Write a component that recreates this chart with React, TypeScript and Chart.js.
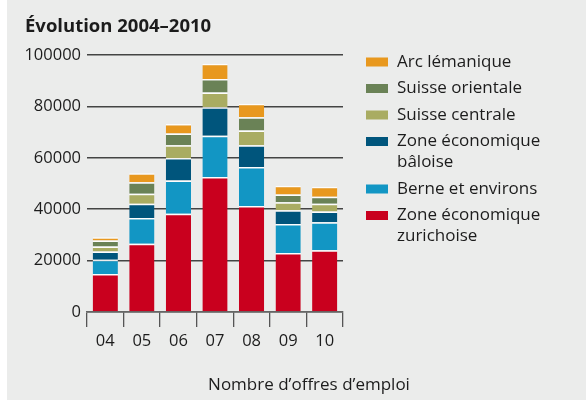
import React, { useEffect, useRef } from "react";
import { Chart, registerables } from "chart.js";
Chart.register(...registerables);

const categories = ["04", "05", "06", "07", "08", "09", "10"];
const zurich = [14.8, 26.6, 38.2, 52.5, 41.2, 23.0, 24.0].map((v) => v * 1000);
const berne = [5.5, 10.0, 13.0, 16.1, 15.2, 11.2, 10.9].map((v) => v * 1000);
const bale = [3.2, 5.5, 8.7, 11.1, 8.5, 5.4, 4.2].map((v) => v * 1000);
const centrale = [2.0, 3.9, 5.0, 5.7, 5.7, 3.1, 3.0].map((v) => v * 1000);
const orientale = [2.3, 4.5, 4.6, 5.3, 5.2, 3.0, 2.7].map((v) => v * 1000);
const lemanique = [1.3, 3.5, 3.7, 5.9, 5.2, 3.4, 3.9].map((v) => v * 1000);
const yTicks = [0, 20000, 40000, 60000, 80000, 100000];

const seriesNames = [
  ["Zone économique", "zurichoise"],
  ["Berne et environs"],
  ["Zone économique", "bâloise"],
  ["Suisse centrale"],
  ["Suisse orientale"],
  ["Arc lémanique"],
];
const seriesColors = ["#c9001e", "#1296c4", "#00557c", "#a9ac62", "#6a8256", "#e8981e"];
const seriesData = [zurich, berne, bale, centrale, orientale, lemanique];

const FONT = "'Open Sans', 'Noto Sans', sans-serif";
const TEXT = "#1c1c1c";

const decorPlugin = {
  id: "decor",
  beforeDraw(chart: any) {
    const ctx = chart.ctx;
    ctx.save();
    ctx.fillStyle = "#ffffff";
    ctx.fillRect(0, 0, chart.width, chart.height);
    ctx.fillStyle = "#ebeceb";
    ctx.fillRect(7, 0, chart.width - 7, 400);
    ctx.restore();
  },
  afterDraw(chart: any) {
    const ctx = chart.ctx;
    ctx.save();
    ctx.fillStyle = TEXT;
    ctx.textBaseline = "middle";
    ctx.font = `bold 18.5px ${FONT}`;
    ctx.textAlign = "left";
    ctx.fillText("Évolution 2004–2010", 25, 27);
    ctx.font = `17px ${FONT}`;
    ctx.textAlign = "center";
    ctx.fillText("Nombre d’offres d’emploi", 309, 385);
    // legend (top of stack first)
    ctx.textAlign = "left";
    let y = 62;
    for (let i = seriesNames.length - 1; i >= 0; i--) {
      ctx.fillStyle = seriesColors[i];
      ctx.fillRect(366, y - 4.5, 22, 9);
      ctx.fillStyle = TEXT;
      const lines = seriesNames[i];
      lines.forEach((l, k) => ctx.fillText(l, 397, y + k * 21));
      y += (lines.length - 1) * 21 + 26.5;
    }
    ctx.restore();
  },
};

export default function App() {
  const ref = useRef<HTMLCanvasElement>(null);
  useEffect(() => {
    const chart = new Chart(ref.current!, {
      type: "bar",
      data: {
        labels: categories,
        datasets: seriesData.map((d, i) => ({
          label: seriesNames[i].join(" "),
          data: d,
          backgroundColor: seriesColors[i],
          borderColor: "rgba(255,255,255,0.9)",
          borderWidth: { top: 1.5, right: 0, bottom: 0, left: 0 },
          borderSkipped: false,
          categoryPercentage: 1,
          barPercentage: 0.69,
        })),
      },
      options: {
        animation: false,
        responsive: false,
        devicePixelRatio: 1,
        layout: { padding: { left: 0, right: 243, top: 55, bottom: 0 } },
        plugins: { legend: { display: false }, title: { display: false }, tooltip: { enabled: false } },
        scales: {
          x: {
            stacked: true,
            offset: true,
            grid: { offset: true, drawOnChartArea: false, drawTicks: true, tickLength: 15, color: "#555555", lineWidth: 1.3 },
            border: { display: true, color: "#666666", width: 1.5 },
            ticks: { color: TEXT, font: { family: FONT, size: 16.5 }, padding: 4 },
            afterFit: (s: any) => { s.height = 91; },
          },
          y: {
            stacked: true,
            min: 0,
            max: 100000,
            afterBuildTicks: (s: any) => { s.ticks = yTicks.map((v) => ({ value: v })); },
            grid: { drawTicks: false, color: "#444444", lineWidth: 1.5 },
            border: { display: false },
            ticks: { color: TEXT, font: { family: FONT, size: 16.5 }, padding: 6, callback: (v: any) => String(v) },
            afterFit: (s: any) => { s.width = 87; },
          },
        },
      },
      plugins: [decorPlugin],
    });
    return () => chart.destroy();
  }, []);
  return (
    <div style={{ position: "fixed", left: 0, top: 0, width: 586, height: 403 }}>
      <canvas ref={ref} width={586} height={403} style={{ width: 586, height: 403, display: "block" }} />
    </div>
  );
}
